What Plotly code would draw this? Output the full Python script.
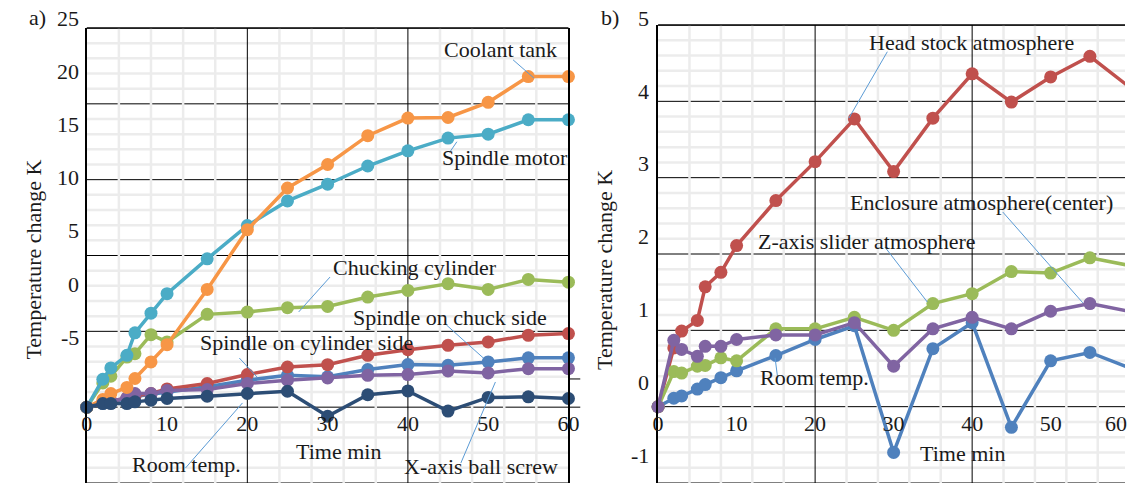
import plotly.graph_objects as go

# ---------------- data ----------------
TIME = [0, 2, 3, 5, 6, 8, 10, 15, 20, 25, 30, 35, 40, 45, 50, 55, 60]

# panel a) temperature change K
A_SPINDLE_CHUCK = [0, 0.25, 0.35, 0.55, 0.7, 0.85, 1.0, 1.34, 1.78, 2.1, 2.0, 2.48, 2.81, 2.76, 2.98, 3.25, 3.25]
A_SPINDLE_CYL = [0, 0.3, 0.4, 0.6, 0.75, 0.9, 1.2, 1.56, 2.15, 2.65, 2.8, 3.42, 3.79, 4.08, 4.3, 4.74, 4.85]
A_CHUCKING_CYL = [0, 1.6, 2.04, 3.3, 3.53, 4.78, 4.3, 6.12, 6.27, 6.56, 6.64, 7.26, 7.7, 8.14, 7.76, 8.42, 8.24]
A_XBALL_SCREW = [0, 0.3, 0.4, 0.6, 0.9, 0.9, 1.1, 1.16, 1.56, 1.78, 1.93, 2.1, 2.15, 2.39, 2.26, 2.54, 2.54]
A_SPINDLE_MOTOR = [0, 1.84, 2.59, 3.42, 4.9, 6.2, 7.48, 9.78, 11.97, 13.6, 14.7, 15.9, 16.9, 17.74, 18.0, 18.95, 18.95]
A_COOLANT_TANK = [0, 0.5, 0.9, 1.3, 1.89, 2.98, 4.12, 7.76, 11.7, 14.45, 16.0, 17.9, 19.06, 19.1, 20.1, 21.8, 21.8]
A_ROOM_TEMP = [0, 0.24, 0.24, 0.24, 0.35, 0.46, 0.57, 0.72, 0.9, 1.05, -0.6, 0.82, 1.07, -0.26, 0.64, 0.68, 0.57]

# panel b) temperature change K
B_ROOM_TEMP = [0, 0.11, 0.14, 0.23, 0.29, 0.38, 0.47, 0.67, 0.88, 1.06, -0.60, 0.76, 1.10, -0.27, 0.60, 0.71, 0.51]
B_HEAD_STOCK = [0, 0.77, 0.99, 1.13, 1.57, 1.76, 2.11, 2.70, 3.21, 3.77, 3.08, 3.78, 4.36, 3.99, 4.32, 4.59, 4.19]
B_Z_SLIDER = [0, 0.46, 0.44, 0.53, 0.54, 0.64, 0.60, 1.02, 1.02, 1.17, 1.00, 1.35, 1.48, 1.77, 1.75, 1.95, 1.85]
B_ENCLOSURE = [0, 0.87, 0.75, 0.66, 0.79, 0.79, 0.88, 0.94, 0.94, 1.10, 0.53, 1.02, 1.17, 1.02, 1.25, 1.35, 1.25]

X_TICKS = [0, 10, 20, 30, 40, 50, 60]
A_YLABELS = [25, 20, 15, 10, 5, 0, -5]
B_YLABELS = [5, 4, 3, 2, 1, 0, -1]

# ---------------- style / layout ----------------
W, H = 1136, 483
FONT = "Liberation Serif"
TXT = "#1a1a1a"
LIGHT = "#ececec"
LEADER = "#5b9bd5"
FS = 22

A_LEFT, A_RIGHT, A_TOP = 82, 571, 28
B_LEFT, B_TOP = 662, 25
A_XRANGE, A_YRANGE = [0, 60], [-5, 25]
B_XRANGE, B_YRANGE = [0, 59.47], [-1, 5]
A_DOM_Y = [0, 1 - A_TOP / H]
B_DOM_Y = [0, 1 - B_TOP / H]
# printed y labels are offset from the grid in the original figure
A_LBL_OFF, A_LBL_SCALE = 8.12, 0.701
B_LBL_OFF, B_LBL_SCALE = 0.315, 0.955
XAXIS_POS = (H - 408) / H

COL = dict(blue="#4f81bd", red="#c0504d", green="#9bbb59", purple="#8064a2",
           cyan="#4bacc6", orange="#f79646", navy="#2c4d75")

fig = go.Figure()

a_series = [
    ("Spindle on chuck side", A_SPINDLE_CHUCK, COL["blue"]),
    ("Spindle on cylinder side", A_SPINDLE_CYL, COL["red"]),
    ("Chucking cylinder", A_CHUCKING_CYL, COL["green"]),
    ("X-axis ball screw", A_XBALL_SCREW, COL["purple"]),
    ("Spindle motor", A_SPINDLE_MOTOR, COL["cyan"]),
    ("Coolant tank", A_COOLANT_TANK, COL["orange"]),
    ("Room temp.", A_ROOM_TEMP, COL["navy"]),
]
b_series = [
    ("Room temp.", B_ROOM_TEMP, COL["blue"]),
    ("Head stock atmosphere", B_HEAD_STOCK, COL["red"]),
    ("Z-axis slider atmosphere", B_Z_SLIDER, COL["green"]),
    ("Enclosure atmosphere(center)", B_ENCLOSURE, COL["purple"]),
]

for name, vals, c in a_series:
    fig.add_trace(go.Scatter(x=TIME, y=vals, mode="lines+markers", name=name,
                             line=dict(color=c, width=3.5), marker=dict(size=13, color=c),
                             xaxis="x", yaxis="y", cliponaxis=False, showlegend=False))
for name, vals, c in b_series:
    fig.add_trace(go.Scatter(x=TIME, y=vals, mode="lines+markers", name=name,
                             line=dict(color=c, width=3.5), marker=dict(size=13, color=c),
                             xaxis="x2", yaxis="y2", cliponaxis=False, showlegend=False))

tickfont = dict(family=FONT, size=FS, color=TXT)
common_x = dict(anchor="free", position=XAXIS_POS, tickvals=X_TICKS, ticks="",
                showgrid=False, zeroline=False, showline=False, tickfont=tickfont)
common_y = dict(showgrid=False, showticklabels=False, ticks="", zeroline=False,
                showline=True, linecolor="black", linewidth=2)
fig.update_layout(
    width=W, height=H, margin=dict(l=0, r=0, t=0, b=0),
    paper_bgcolor="white", plot_bgcolor="rgba(0,0,0,0)", showlegend=False,
    font=dict(family=FONT, color=TXT),
    xaxis=dict(domain=[A_LEFT / W, A_RIGHT / W], range=A_XRANGE, **common_x),
    yaxis=dict(domain=A_DOM_Y, range=A_YRANGE, anchor="x", mirror=True, **common_y),
    xaxis2=dict(domain=[B_LEFT / W, 1.0], range=B_XRANGE, **common_x),
    yaxis2=dict(domain=B_DOM_Y, range=B_YRANGE, anchor="x2", mirror=False, **common_y),
)

shapes = []
def gl(xref, yref, x0, x1, y0, y1, color, width):
    shapes.append(dict(type="line", xref=xref, yref=yref, x0=x0, x1=x1, y0=y0, y1=y1,
                       line=dict(color=color, width=width), layer="below"))

# grid: horizontal minor, horizontal major, vertical minor, vertical major
for xr, yr, (ylo, yhi), ystep, ymaj, xmax in (("x", "y", A_YRANGE, 1.0, 5, 60),
                                               ("x2", "y2", B_YRANGE, 0.2, 1, 59.47)):
    n = int(round((yhi - ylo) / ystep))
    yvals = [round(ylo + i * ystep, 3) for i in range(n + 1)]
    for yv in yvals:
        if abs(yv / ymaj - round(yv / ymaj)) > 1e-6:
            gl(xr + " domain", yr, 0, 1, yv, yv, LIGHT, 2.5)
    for yv in yvals:
        if abs(yv / ymaj - round(yv / ymaj)) <= 1e-6:
            gl(xr + " domain", yr, 0, 1, yv, yv, "black", 1)
    for xv in range(4, 60, 4):
        if xv % 20 and xv < xmax:
            gl(xr, yr + " domain", xv, xv, 0, 1, LIGHT, 2.5)
    for xv in (20, 40):
        gl(xr, yr + " domain", xv, xv, 0, 1, "black", 1)

# top borders
shapes.append(dict(type="line", xref="x domain", yref="y domain", x0=0, x1=1, y0=1, y1=1,
                   line=dict(color="black", width=1.5)))
shapes.append(dict(type="line", xref="x2 domain", yref="y2 domain", x0=0, x1=1, y0=1, y1=1,
                   line=dict(color="black", width=1.5)))
# small tick stubs at the right border of panel a
for yv in (0, 1.86):
    shapes.append(dict(type="line", xref="paper", yref="y", x0=A_RIGHT / W, x1=583 / W,
                       y0=yv, y1=yv, line=dict(color="black", width=1)))

# leader lines (data coordinates)
A_LEADERS = [((53.1, 22.9), (55.7, 21.7)), ((46.1, 17.5), (45.2, 16.8)),
             ((30.3, 8.58), (26.4, 6.28)), ((44.8, 5.42), (49.4, 3.24)),
             ((19.0, 3.24), (21.2, 1.99)), ((12.3, -4.01), (19.4, 0.28)),
             ((46.6, -3.68), (50.9, 1.66))]
B_LEADERS = [((29.2, 4.65), (24.3, 3.78)), ((43.9, 2.55), (54.1, 1.36)),
             ((28.9, 2.09), (34.3, 1.37)), ((14.9, 0.64), (15.2, 0.40))]
for (x0, y0), (x1, y1) in A_LEADERS:
    shapes.append(dict(type="line", xref="x", yref="y", x0=x0, y0=y0, x1=x1, y1=y1,
                       line=dict(color=LEADER, width=1)))
for (x0, y0), (x1, y1) in B_LEADERS:
    shapes.append(dict(type="line", xref="x2", yref="y2", x0=x0, y0=y0, x1=x1, y1=y1,
                       line=dict(color=LEADER, width=1)))
fig.update_layout(shapes=shapes)

ann = []
def label(text, x, y, xref, yref, **kw):
    d = dict(text=text, x=x, y=y, xref=xref, yref=yref, showarrow=False,
             xanchor="center", yanchor="middle",
             font=dict(family=FONT, size=FS, color=TXT))
    d.update(kw)
    ann.append(d)

# series labels
A_TEXTS = [("Coolant tank", 51.5, 23.55), ("Spindle motor", 52.1, 16.43),
           ("Chucking cylinder", 40.9, 9.24), ("Spindle on chuck side", 45.2, 5.88),
           ("Spindle on cylinder side", 27.4, 4.25), ("Room temp.", 12.4, -3.81),
           ("X-axis ball screw", 49.1, -3.94), ("Time min", 31.3, -2.89)]
B_TEXTS = [("Head stock atmosphere", 39.9, 4.77), ("Enclosure atmosphere(center)", 41.2, 2.68),
           ("Z-axis slider atmosphere", 26.6, 2.16), ("Room temp.", 19.9, 0.38),
           ("Time min", 38.8, -0.61)]
for t, x, y in A_TEXTS:
    label(t, x, y, "x", "y")
for t, x, y in B_TEXTS:
    label(t, x, y, "x2", "y2")

# printed y tick labels
def to_paper(v, rng, dom):
    return dom[0] + (v - rng[0]) / (rng[1] - rng[0]) * (dom[1] - dom[0])
for L in A_YLABELS:
    label(str(L), 76 / W, to_paper(A_LBL_OFF + A_LBL_SCALE * L, A_YRANGE, A_DOM_Y),
          "paper", "paper", xanchor="right")
for L in B_YLABELS:
    label(str(L), 655 / W, to_paper(B_LBL_OFF + B_LBL_SCALE * L, B_YRANGE, B_DOM_Y),
          "paper", "paper", xanchor="right")
# last x label of panel b sits at the cropped right edge
label(str(X_TICKS[-1]), 1127 / W, 1 - 423 / H, "paper", "paper")

# panel tags and axis titles
label("a)", 32 / W, 1 - 18 / H, "paper", "paper")
label("b)", 613 / W, 1 - 18 / H, "paper", "paper")
label("Temperature change K", 27 / W, 1 - 260 / H, "paper", "paper", textangle=-90)
label("Temperature change K", 607 / W, 1 - 270 / H, "paper", "paper", textangle=-90)

fig.update_layout(annotations=ann)
fig.write_html("out.html", config={"displayModeBar": False},
               post_script="document.body.style.margin='0';")
